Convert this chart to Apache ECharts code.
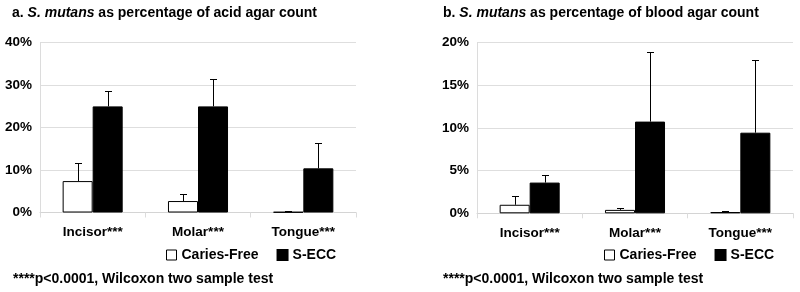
<!DOCTYPE html>
<html><head><meta charset="utf-8">
<script src="https://cdn.jsdelivr.net/npm/echarts@6/dist/echarts.min.js"></script>
<style>html,body{margin:0;padding:0;background:#fff}#c{width:800px;height:292px}</style>
</head><body><div id="c"></div>
<script>
const categories = ['Incisor***', 'Molar***', 'Tongue***'];
// Panel a: % of acid agar count
const acidCF = [7.4, 2.7, 0.12];
const acidCFErr = [11.5, 4.3, 0.2];
const acidSECC = [25.0, 25.0, 10.4];
const acidSECCErr = [28.5, 31.4, 16.3];
const acidTicks = [0, 10, 20, 30, 40];
// Panel b: % of blood agar count
const bloodCF = [1.0, 0.4, 0.15];
const bloodCFErr = [1.95, 0.6, 0.25];
const bloodSECC = [3.6, 10.75, 9.45];
const bloodSECCErr = [4.4, 18.8, 17.95];
const bloodTicks = [0, 5, 10, 15, 20];

const FONT = '"Liberation Sans", Arial, sans-serif';
const CAT_GAP = 0.43;

function errItem(sign) {
  return function (params, api) {
    const x = api.value(0), v = api.value(1), u = api.value(2);
    const band = api.size([1, 0])[0];
    const bw = band * (1 - CAT_GAP) / 2;
    const c0 = api.coord([x, v]);
    const c1 = api.coord([x, u]);
    const cx = Math.round(c0[0] + sign * bw / 2) + 0.5;
    const y1 = Math.floor(c1[1]) + 0.5;
    const style = { stroke: '#000', lineWidth: 1 };
    return { type: 'group', children: [
      { type: 'line', shape: { x1: cx, y1: c0[1], x2: cx, y2: y1 }, style },
      { type: 'line', shape: { x1: cx - 3.5, y1: y1, x2: cx + 3.5, y2: y1 }, style }
    ]};
  };
}
function errData(m, e) { return m.map((v, i) => [i, v, e[i]]); }

const axisTextY = { color: '#000', fontWeight: 'bold', fontSize: 13.5, fontFamily: FONT, margin: 8, formatter: '{value}%' };
const axisTextX = { color: '#000', fontWeight: 'bold', fontSize: 13.5, fontFamily: FONT, margin: 13 };
function xAx(g) {
  return { type: 'category', gridIndex: g, data: categories,
    axisLine: { lineStyle: { color: '#d4d4d4' } },
    axisTick: { show: true, length: 5, lineStyle: { color: '#dcdcdc' } },
    axisLabel: axisTextX };
}
function yAx(g, ticks) {
  return { type: 'value', gridIndex: g, min: ticks[0], max: ticks[ticks.length - 1],
    interval: ticks[1] - ticks[0],
    axisLine: { show: true, lineStyle: { color: '#dcdcdc' } },
    axisTick: { show: false },
    splitLine: { lineStyle: { color: '#dedede' } },
    axisLabel: axisTextY };
}
function bars(g, cf, secc) {
  return [
    { name: 'Caries-Free', type: 'bar', xAxisIndex: g, yAxisIndex: g, data: cf,
      barGap: '0%', barCategoryGap: (CAT_GAP * 100) + '%',
      itemStyle: { color: '#fff', borderColor: '#000', borderWidth: 1 } },
    { name: 'S-ECC', type: 'bar', xAxisIndex: g, yAxisIndex: g, data: secc,
      barGap: '0%', barCategoryGap: (CAT_GAP * 100) + '%',
      itemStyle: { color: '#000', borderColor: '#000', borderWidth: 1 } }
  ];
}
function errs(g, cf, cfe, secc, secce) {
  return [
    { type: 'custom', xAxisIndex: g, yAxisIndex: g, renderItem: errItem(-1), data: errData(cf, cfe), encode: { x: 0, y: [1, 2] }, z: 1, silent: true },
    { type: 'custom', xAxisIndex: g, yAxisIndex: g, renderItem: errItem(1), data: errData(secc, secce), encode: { x: 0, y: [1, 2] }, z: 1, silent: true }
  ];
}
const titleRich = {
  b: { fontWeight: 'bold', fontSize: 14, fontFamily: FONT, color: '#000' },
  i: { fontWeight: 'bold', fontStyle: 'italic', fontSize: 14, fontFamily: FONT, color: '#000' }
};
function legend(left) {
  return { left: left, top: 243, itemWidth: 10, itemHeight: 10, itemGap: 18, icon: 'rect',
    data: [
      { name: 'Caries-Free', itemStyle: { color: '#fff', borderColor: '#000', borderWidth: 1 } },
      { name: 'S-ECC', itemStyle: { color: '#000' } }
    ],
    textStyle: { color: '#000', fontWeight: 'bold', fontSize: 14, fontFamily: FONT } };
}
const noteStyle = { fontWeight: 'bold', fontSize: 14, fontFamily: FONT, color: '#000' };
const chart = echarts.init(document.getElementById('c'));
chart.setOption({
  animation: false,
  title: [
    { left: 7, top: 1, text: '{b|a. }{i|S. mutans}{b| as percentage of acid agar count}', textStyle: { rich: titleRich } },
    { left: 438, top: 1, text: '{b|b. }{i|S. mutans}{b| as percentage of blood agar count}', textStyle: { rich: titleRich } },
    { left: 8, top: 267, text: '****p<0.0001, Wilcoxon two sample test', textStyle: noteStyle },
    { left: 438, top: 267, text: '****p<0.0001, Wilcoxon two sample test', textStyle: noteStyle }
  ],
  legend: [legend(161), legend(599)],
  grid: [
    { left: 40, right: 444, top: 42.7, bottom: 79.5 },
    { left: 477, right: 7, top: 42.7, bottom: 78.7 }
  ],
  xAxis: [xAx(0), xAx(1)],
  yAxis: [yAx(0, acidTicks), yAx(1, bloodTicks)],
  series: [
    ...errs(0, acidCF, acidCFErr, acidSECC, acidSECCErr),
    ...bars(0, acidCF, acidSECC),
    ...errs(1, bloodCF, bloodCFErr, bloodSECC, bloodSECCErr),
    ...bars(1, bloodCF, bloodSECC)
  ]
});
</script></body></html>
